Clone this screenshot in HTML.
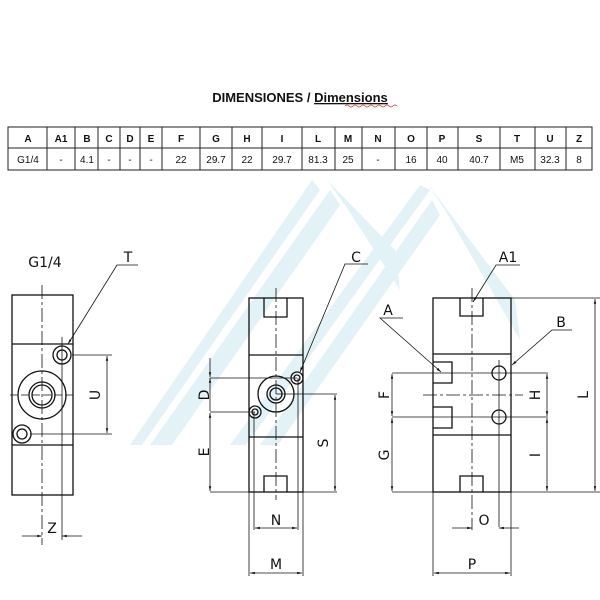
<!DOCTYPE html>
<html><head><meta charset="utf-8"><style>
html,body{margin:0;padding:0;background:#fff}
svg{display:block}
text{font-family:"Liberation Sans",sans-serif;fill:#111}
.t{font-family:"DejaVu Sans","Liberation Sans",sans-serif;font-size:14px}
</style></head><body>
<svg width="600" height="600" viewBox="0 0 600 600" xmlns="http://www.w3.org/2000/svg">
<defs>
<marker id="ar" viewBox="0 0 10 10" refX="10" refY="5" markerWidth="6" markerHeight="6" orient="auto-start-reverse"><path d="M0,2.5 L10,5 L0,7.5 z" fill="#111"/></marker>
</defs>
<!-- watermark -->
<g fill="#c6e6ef" opacity="0.5">
<polygon points="130,445 142,445 320,190 312,180"/>
<polygon points="150,445 172,445 340,205 330,190"/>
<polygon points="327,180 345,205 400,290 395,250"/>
<polygon points="230,445 246,445 430,190 420,185"/>
<polygon points="260,445 278,445 440,215 432,200"/>
<polygon points="430,187 445,210 520,340 515,300"/>
</g>
<!-- title -->
<text x="300" y="102" text-anchor="middle" font-size="13" font-weight="bold">DIMENSIONES / <tspan text-decoration="underline">Dimensions</tspan></text>
<path d="M345,106 q2,-2 4,0 t4,0 t4,0 t4,0 t4,0 t4,0 t4,0 t4,0 t4,0 t4,0 t4,0 t4,0 t4,0" stroke="#d33" stroke-width="0.7" fill="none"/>
<!-- table -->
<g stroke="#222" stroke-width="1" fill="none">
<rect x="8" y="127" width="584" height="43"/>
<line x1="8" y1="148" x2="592" y2="148"/>
<path d="M47,127V170M75,127V170M98,127V170M120,127V170M140,127V170M162,127V170M200,127V170M232,127V170M262,127V170M302,127V170M335,127V170M362,127V170M395,127V170M427,127V170M458,127V170M500,127V170M535,127V170M566,127V170"/>
</g>
<g font-size="10" text-anchor="middle">
<g font-weight="bold">
<text x="28" y="142">A</text><text x="61" y="142">A1</text><text x="87" y="142">B</text><text x="109" y="142">C</text><text x="130" y="142">D</text><text x="151" y="142">E</text><text x="181" y="142">F</text><text x="216" y="142">G</text><text x="247" y="142">H</text><text x="282" y="142">I</text><text x="318" y="142">L</text><text x="348" y="142">M</text><text x="378" y="142">N</text><text x="411" y="142">O</text><text x="442" y="142">P</text><text x="479" y="142">S</text><text x="517" y="142">T</text><text x="550" y="142">U</text><text x="579" y="142">Z</text>
</g>
<text x="28" y="163">G1/4</text><text x="61" y="163">-</text><text x="87" y="163">4.1</text><text x="109" y="163">-</text><text x="130" y="163">-</text><text x="151" y="163">-</text><text x="181" y="163">22</text><text x="216" y="163">29.7</text><text x="247" y="163">22</text><text x="282" y="163">29.7</text><text x="318" y="163">81.3</text><text x="348" y="163">25</text><text x="378" y="163">-</text><text x="411" y="163">16</text><text x="442" y="163">40</text><text x="479" y="163">40.7</text><text x="517" y="163">M5</text><text x="550" y="163">32.3</text><text x="579" y="163">8</text>
</g>

<g stroke="#111" fill="none" stroke-width="1.3">
<!-- LEFT VIEW -->
<rect x="12" y="295" width="61" height="200"/>
<line x1="12" y1="344" x2="73" y2="344"/><line x1="12" y1="445" x2="73" y2="445"/>
<circle cx="42" cy="395" r="24"/><circle cx="42" cy="395" r="13"/><circle cx="42" cy="395" r="10"/>
<circle cx="62" cy="355" r="9"/><circle cx="62" cy="355" r="5"/>
<circle cx="22" cy="434" r="9"/><circle cx="22" cy="434" r="5"/>
</g>
<g stroke="#111" fill="none" stroke-width="0.8">
<line x1="42" y1="285" x2="42" y2="545" stroke-dasharray="14,3,3,3"/>
<line x1="62" y1="337" x2="62" y2="540"/>
<line x1="10" y1="395" x2="75" y2="395" stroke-dasharray="8,3"/>
<line x1="72" y1="355" x2="112" y2="355"/><line x1="30" y1="434" x2="112" y2="434"/>
<line x1="107" y1="356" x2="107" y2="433" marker-start="url(#ar)" marker-end="url(#ar)"/>
<line x1="22" y1="536" x2="42" y2="536" marker-end="url(#ar)"/><line x1="82" y1="536" x2="62" y2="536" marker-end="url(#ar)"/>
<polyline points="138,265 117,265 68,344" marker-end="url(#ar)"/>

<!-- MIDDLE VIEW -->
<line x1="276" y1="288" x2="276" y2="500" stroke-dasharray="14,3,3,3"/>
<line x1="210" y1="378" x2="297" y2="378"/><line x1="210" y1="412" x2="255" y2="412"/>
<line x1="210" y1="492" x2="337" y2="492"/><line x1="276" y1="394" x2="337" y2="394"/>
<line x1="210" y1="358" x2="210" y2="377" marker-end="url(#ar)"/>
<line x1="210" y1="378" x2="210" y2="411" marker-start="url(#ar)"/>
<line x1="210" y1="413" x2="210" y2="491" marker-start="url(#ar)" marker-end="url(#ar)"/>
<line x1="335" y1="395" x2="335" y2="491" marker-start="url(#ar)" marker-end="url(#ar)"/>
<line x1="254" y1="412" x2="254" y2="530"/><line x1="298" y1="378" x2="298" y2="530"/>
<line x1="249" y1="492" x2="249" y2="576"/><line x1="303" y1="492" x2="303" y2="576"/>
<line x1="255" y1="528" x2="297" y2="528" marker-start="url(#ar)" marker-end="url(#ar)"/>
<line x1="250" y1="573" x2="302" y2="573" marker-start="url(#ar)" marker-end="url(#ar)"/>
<polyline points="368,264 345,264 300,372" marker-end="url(#ar)"/>

<!-- RIGHT VIEW -->
<line x1="472" y1="288" x2="472" y2="530" stroke-dasharray="14,3,3,3"/>
<line x1="423" y1="395" x2="523" y2="395" stroke-dasharray="14,3,3,3"/>
<line x1="499" y1="360" x2="499" y2="527"/>
<line x1="392" y1="373" x2="548" y2="373"/><line x1="392" y1="417" x2="548" y2="417"/>
<line x1="392" y1="492" x2="600" y2="492"/><line x1="511" y1="298" x2="600" y2="298"/>
<line x1="392" y1="374" x2="392" y2="416" marker-start="url(#ar)" marker-end="url(#ar)"/>
<line x1="392" y1="418" x2="392" y2="491" marker-start="url(#ar)" marker-end="url(#ar)"/>
<line x1="547" y1="374" x2="547" y2="416" marker-start="url(#ar)" marker-end="url(#ar)"/>
<line x1="547" y1="418" x2="547" y2="491" marker-start="url(#ar)" marker-end="url(#ar)"/>
<line x1="595" y1="299" x2="595" y2="491" marker-start="url(#ar)" marker-end="url(#ar)"/>
<line x1="433" y1="492" x2="433" y2="576"/><line x1="511" y1="492" x2="511" y2="576"/>
<line x1="452" y1="528" x2="472" y2="528" marker-end="url(#ar)"/><line x1="519" y1="528" x2="499" y2="528" marker-end="url(#ar)"/>
<line x1="434" y1="573" x2="510" y2="573" marker-start="url(#ar)" marker-end="url(#ar)"/>
<polyline points="520,265 496,265 473,302" marker-end="url(#ar)"/>
<polyline points="403,318 380,318 441,372" marker-end="url(#ar)"/>
<polyline points="572,330 552,330 512,365" marker-end="url(#ar)"/>
</g>
<g stroke="#111" fill="none" stroke-width="1.3">
<rect x="249" y="298" width="54" height="194"/>
<line x1="249" y1="355" x2="303" y2="355"/><line x1="249" y1="437" x2="303" y2="437"/>
<path d="M264,298V317H287V298M264,492V476H287V492"/>
<circle cx="276" cy="394" r="18"/><circle cx="276" cy="394" r="9"/><circle cx="276" cy="394" r="6"/>
<circle cx="297" cy="378" r="6"/><circle cx="297" cy="378" r="3"/>
<circle cx="255" cy="412" r="6"/><circle cx="255" cy="412" r="3"/>

<rect x="433" y="298" width="78" height="194"/>
<line x1="433" y1="354" x2="511" y2="354"/><line x1="433" y1="435" x2="511" y2="435"/>
<path d="M460,298V316H483V298M460,492V476H483V492"/>
<path d="M433,362H452V383H433M433,407H452V428H433"/>
<circle cx="499" cy="373" r="7"/><circle cx="499" cy="417" r="7"/>
</g>

<!-- labels -->
<text class="t" x="45" y="267" text-anchor="middle">G1/4</text>
<text class="t" x="128" y="262" text-anchor="middle">T</text>
<text class="t" x="356" y="262" text-anchor="middle">C</text>
<text class="t" x="508" y="262" text-anchor="middle">A1</text>
<text class="t" x="388" y="315" text-anchor="middle">A</text>
<text class="t" x="561" y="327" text-anchor="middle">B</text>
<text class="t" x="52" y="533" text-anchor="middle">Z</text>
<text class="t" x="276" y="525" text-anchor="middle">N</text>
<text class="t" x="276" y="569" text-anchor="middle">M</text>
<text class="t" x="484" y="525" text-anchor="middle">O</text>
<text class="t" x="472" y="569" text-anchor="middle">P</text>
<text class="t" transform="translate(100,395) rotate(-90)" text-anchor="middle">U</text>
<text class="t" transform="translate(209,395) rotate(-90)" text-anchor="middle">D</text>
<text class="t" transform="translate(209,452) rotate(-90)" text-anchor="middle">E</text>
<text class="t" transform="translate(328,443) rotate(-90)" text-anchor="middle">S</text>
<text class="t" transform="translate(389,395) rotate(-90)" text-anchor="middle">F</text>
<text class="t" transform="translate(389,455) rotate(-90)" text-anchor="middle">G</text>
<text class="t" transform="translate(540,395) rotate(-90)" text-anchor="middle">H</text>
<text class="t" transform="translate(540,455) rotate(-90)" text-anchor="middle">I</text>
<text class="t" transform="translate(588,395) rotate(-90)" text-anchor="middle">L</text>
</svg>
</body></html>
